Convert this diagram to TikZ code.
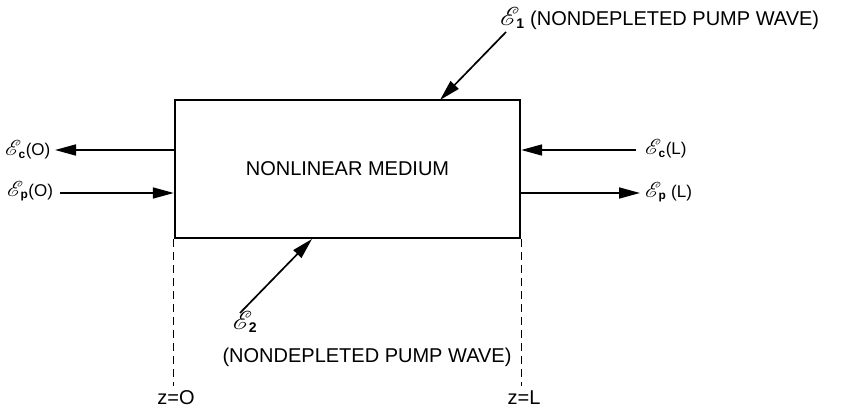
\documentclass[tikz,border=0pt]{standalone}
\usepackage{fontspec}
\setmainfont{Liberation Sans}
\usepackage{amsmath}
\usepackage{mathrsfs}
\usepackage{graphicx}
\usetikzlibrary{positioning,arrows.meta}

\newcommand{\fieldE}[1]{$\scalebox{1.25}{$\mathscr{E}$}_{\mkern-4mu\textbf{#1}}$}

\tikzset{
  wave/.style={line width=1.7pt,-{Triangle[length=21pt,width=11pt]}},
  plane/.style={line width=1.1pt,dash pattern=on 8pt off 5pt},
  lbl/.style={inner sep=1pt},
  sidelbl/.style={lbl,anchor=west,font=\fontsize{17}{20}\selectfont}
}

\begin{document}
\begin{tikzpicture}[x=1pt,y=-1pt,font=\fontsize{20}{24}\selectfont]
\useasboundingbox (0,0) rectangle (842,414);
\node[draw,line width=2.4pt,minimum width=345pt,minimum height=138pt,inner sep=0pt] (medium) at (347.5,169) {NONLINEAR MEDIUM};

% field labels
\node[sidelbl] (cO) at (4,150) {\fieldE{c}(O)};
\node[sidelbl] (pO) at (6,191) {\fieldE{p}(O)};
\node[sidelbl] (cL) at (644,149) {\fieldE{c}(L)};
\node[sidelbl] (pL) at (644,192) {\fieldE{p} (L)};
\node[lbl,anchor=west] (pump1) at (499,18) {\fieldE{1} (NONDEPLETED PUMP WAVE)};
\node[lbl] (e2) at (245,322) {\fieldE{2}};
\node[lbl] (pump2) at (367,357) {(NONDEPLETED PUMP WAVE)};

% arrow end points
\coordinate (cOtip) at (55,150);
\coordinate (pOtail) at (60,193);
\coordinate (cLtail) at (636,150);
\coordinate (pLtip) at (640,193);
\coordinate (in1tail) at (506,32);
\coordinate (in1tip) at (440,100);
\coordinate (in2tail) at (240,313);
\coordinate (in2tip) at (312,239);

\draw[wave] (medium.west |- cOtip) -- (cOtip);
\draw[wave] (pOtail) -- (medium.west |- pOtail);
\draw[wave] (cLtail) -- (medium.east |- cLtail);
\draw[wave] (medium.east |- pLtip) -- (pLtip);
\draw[wave] (in1tail) -- (in1tip);
\draw[wave] (in2tail) -- (in2tip);

% boundary planes
\node (z0) at (176,398) {z=O};
\node (zL) at (524,398) {z=L};
\draw[plane] (medium.south west) -- (medium.south west |- 0,386);
\draw[plane] (medium.south east) -- (medium.south east |- 0,386);
\end{tikzpicture}
\end{document}
